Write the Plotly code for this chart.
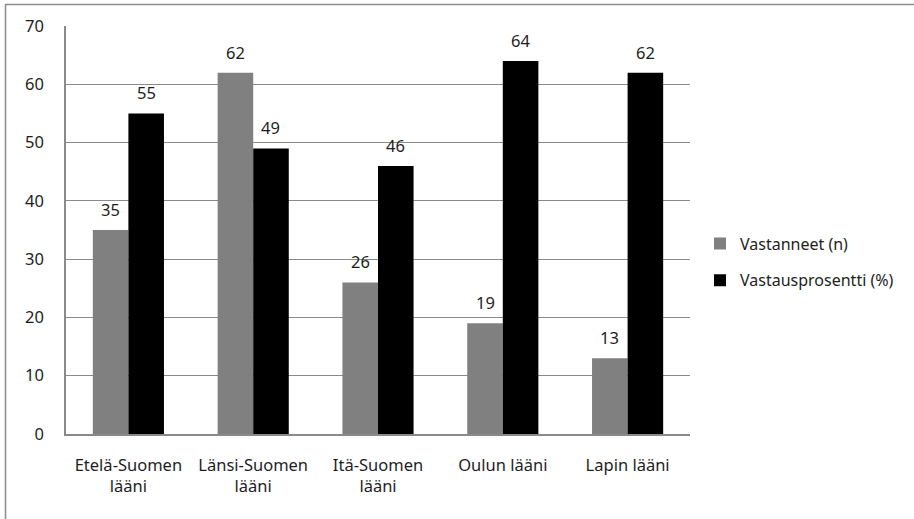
import plotly.graph_objects as go

categories = ["Etelä-Suomen<br>lääni", "Länsi-Suomen<br>lääni", "Itä-Suomen<br>lääni", "Oulun lääni", "Lapin lääni"]
vastanneet = [35, 62, 26, 19, 13]
vastausprosentti = [55, 49, 46, 64, 62]
series_names = ["Vastanneet (n)", "Vastausprosentti (%)"]
series_colors = ["#808080", "#000000"]

W, H = 914, 519
L, R, T, B = 66, 224, 26, 85
FONT = "Noto Sans"
FS = 16.5
LEG_FS = 16
TXT = "#1e1e1e"
GRID = "#8a8a8a"

fig = go.Figure()
for name, vals, col, grp in zip(series_names, [vastanneet, vastausprosentti], series_colors, ["a", "b"]):
    fig.add_trace(go.Bar(x=categories, y=vals, name=name, marker=dict(color=col, line=dict(width=0)),
                         legendgroup=grp))

# value labels above each bar
plot_w = W - L - R
cat_w = plot_w / len(categories)
bargap = 0.43
bar_w = cat_w * (1 - bargap) / 2
annotations = []
for vals, sign in [(vastanneet, -1), (vastausprosentti, 1)]:
    for c, v in zip(categories, vals):
        annotations.append(dict(x=c, y=v, xref="x", yref="y", text=str(v), showarrow=False,
                                xshift=sign * bar_w / 2, yshift=7, yanchor="bottom",
                                font=dict(family=FONT, size=FS, color=TXT)))

# outer chart frame
shapes = [dict(type="rect", xref="paper", yref="paper",
               x0=(5.5 - L) / plot_w, x1=(W + 5 - L) / plot_w,
               y0=-(H + 5 - (H - B)) / (H - T - B), y1=1 + (T - 4.5) / (H - T - B),
               line=dict(color="#8c8c8c", width=1.5), layer="below")]

fig.update_layout(
    width=W, height=H,
    margin=dict(l=L, r=R, t=T, b=B, autoexpand=False),
    paper_bgcolor="white", plot_bgcolor="white",
    barmode="group", bargap=bargap, bargroupgap=0,
    font=dict(family=FONT, size=FS, color=TXT),
    showlegend=True,
    legend=dict(x=(700 - L) / plot_w, y=(H - B - 262) / (H - T - B), xanchor="left", yanchor="middle",
                traceorder="grouped", tracegroupgap=13, font=dict(family=FONT, size=LEG_FS, color=TXT),
                itemwidth=30, bgcolor="rgba(0,0,0,0)"),
    annotations=annotations,
    shapes=shapes,
)
fig.update_xaxes(showgrid=False, showline=True, linecolor=GRID, linewidth=1.5, ticks="",
                 tickfont=dict(family=FONT, size=FS, color=TXT), ticklabelstandoff=15)
fig.update_yaxes(range=[0, 70], dtick=10, showgrid=True, gridcolor=GRID, gridwidth=1,
                 showline=True, linecolor=GRID, linewidth=1.5, ticks="", zeroline=False,
                 tickfont=dict(family=FONT, size=FS, color=TXT), ticklabelstandoff=17)

fig.write_html("out.html")
